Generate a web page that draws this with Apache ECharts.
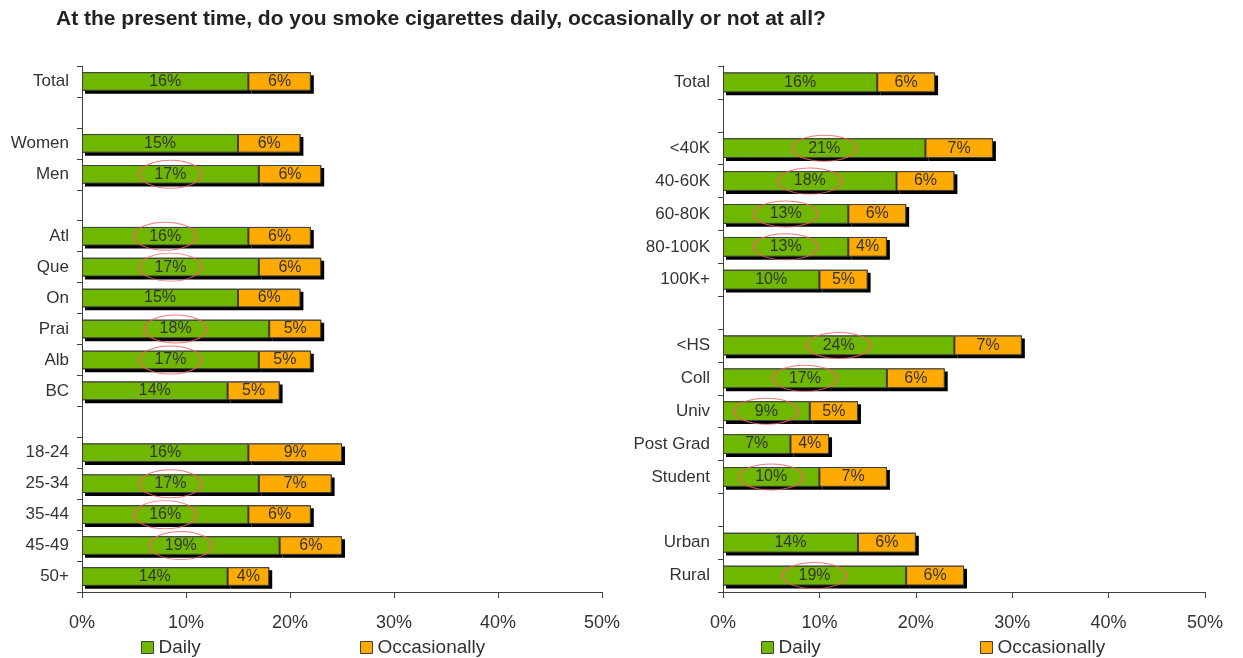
<!DOCTYPE html>
<html>
<head>
<meta charset="utf-8">
<script src="https://cdn.jsdelivr.net/npm/echarts@6/dist/echarts.min.js"></script>
<style>
html,body{margin:0;padding:0;background:#fff;}
#chart{width:1243px;height:658px;}
</style>
</head>
<body>
<div id="chart"></div>
<script>
// ---- data ----
const titleText = 'At the present time, do you smoke cigarettes daily, occasionally or not at all?';
const seriesNames = ['Daily', 'Occasionally'];
const xTicks = [0, 10, 20, 30, 40, 50];

const leftCategories = ['Total', '', 'Women', 'Men', '', 'Atl', 'Que', 'On', 'Prai', 'Alb', 'BC', '', '18-24', '25-34', '35-44', '45-49', '50+'];
const leftDaily      = [16, null, 15, 17, null, 16, 17, 15, 18, 17, 14, null, 16, 17, 16, 19, 14];
const leftOccasional = [6,  null, 6,  6,  null, 6,  6,  6,  5,  5,  5,  null, 9,  7,  6,  6,  4];
const leftCircled    = ['Men', 'Atl', 'Que', 'Prai', 'Alb', '25-34', '35-44', '45-49'];

const rightCategories = ['Total', '', '<40K', '40-60K', '60-80K', '80-100K', '100K+', '', '<HS', 'Coll', 'Univ', 'Post Grad', 'Student', '', 'Urban', 'Rural'];
const rightDaily      = [16, null, 21, 18, 13, 13, 10, null, 24, 17, 9, 7, 10, null, 14, 19];
const rightOccasional = [6,  null, 7,  6,  6,  4,  5,  null, 7,  6,  5, 4, 7,  null, 6,  6];
const rightCircled    = ['<40K', '40-60K', '60-80K', '80-100K', '<HS', 'Coll', 'Univ', 'Student', 'Rural'];

// ---- style ----
const FONT = '"Liberation Sans", Arial, Helvetica, sans-serif';
const GREEN = '#70B800';
const ORANGE = '#FFAA00';
const AXIS = '#404040';
const TEXT = '#333333';
const ELLIPSE = '#EC6262';
const ellipsePath = 'path://M0,50 A50,50 0 1,1 100,50 A50,50 0 1,1 0,50 Z';

function barSeries(name, color, data, idx) {
  return {
    type: 'bar', name: name, stack: 'main' + idx,
    xAxisIndex: idx, yAxisIndex: idx,
    barCategoryGap: '40%', barGap: '-100%',
    data: data,
    itemStyle: { color: color, borderColor: AXIS, borderWidth: 1 },
    label: {
      show: true, position: 'inside', formatter: '{c}%',
      color: TEXT, fontSize: 16, fontFamily: FONT
    },
    z: 3
  };
}
// shadow layer: same stacked values drawn in black, offset by a canvas shadow
function shadowSeries(data, idx, part) {
  return {
    type: 'bar', name: 'shadow-' + idx + '-' + part, stack: 'shadow' + idx,
    xAxisIndex: idx, yAxisIndex: idx,
    barCategoryGap: '40%', barGap: '-100%',
    data: data, silent: true,
    itemStyle: { color: '#000', shadowColor: '#000', shadowOffsetX: 3, shadowOffsetY: 3, shadowBlur: 0 },
    label: { show: false },
    z: 2
  };
}

function circleSeries(cats, daily, circled, idx, size) {
  const pts = cats.map((c, i) => circled.indexOf(c) >= 0 ? [daily[i] / 2, c] : null).filter(p => p);
  return {
    type: 'scatter', name: 'circles' + idx,
    xAxisIndex: idx, yAxisIndex: idx,
    data: pts, symbol: ellipsePath, symbolSize: size,
    itemStyle: { color: 'transparent', borderColor: ELLIPSE, borderWidth: 1.4 },
    silent: true, z: 5
  };
}

function xAxis(idx) {
  return {
    type: 'value', gridIndex: idx, min: xTicks[0], max: xTicks[xTicks.length - 1],
    interval: xTicks[1] - xTicks[0],
    axisLine: { show: true, lineStyle: { color: AXIS, width: 1 } },
    axisTick: { show: true, length: 6, lineStyle: { color: AXIS } },
    splitLine: { show: false },
    axisLabel: { formatter: '{value}%', fontSize: 18, color: TEXT, fontFamily: FONT, margin: 22 }
  };
}
function yAxis(idx, cats) {
  return {
    type: 'category', gridIndex: idx, data: cats, inverse: true,
    axisLine: { show: true, lineStyle: { color: AXIS, width: 1 } },
    axisTick: { show: true, length: 5, lineStyle: { color: AXIS } },
    axisLabel: { fontSize: 17, color: TEXT, fontFamily: FONT, margin: 13 }
  };
}
function legend(name, left) {
  return {
    data: [name], left: left, top: 633, icon: 'rect',
    itemWidth: 12, itemHeight: 12, itemGap: 0,
    itemStyle: { borderColor: AXIS, borderWidth: 1 },
    textStyle: { fontSize: 19, color: TEXT, fontFamily: FONT },
    selectedMode: false
  };
}

const chart = echarts.init(document.getElementById('chart'), null, { renderer: 'canvas' });
chart.setOption({
  animation: false,
  backgroundColor: '#fff',
  title: {
    text: titleText, left: 51, top: 4,
    textStyle: { fontSize: 21, fontWeight: 'bold', color: '#222', fontFamily: FONT }
  },
  legend: [
    legend(seriesNames[0], 136), legend(seriesNames[1], 355),
    legend(seriesNames[0], 756), legend(seriesNames[1], 975)
  ],
  grid: [
    { left: 82, top: 66, width: 520, height: 526 },
    { left: 723, top: 66, width: 482, height: 526 }
  ],
  xAxis: [xAxis(0), xAxis(1)],
  yAxis: [yAxis(0, leftCategories), yAxis(1, rightCategories)],
  series: [
    shadowSeries(leftDaily, 0, 'd'),
    shadowSeries(leftOccasional, 0, 'o'),
    barSeries(seriesNames[0], GREEN, leftDaily, 0),
    barSeries(seriesNames[1], ORANGE, leftOccasional, 0),
    shadowSeries(rightDaily, 1, 'd'),
    shadowSeries(rightOccasional, 1, 'o'),
    barSeries(seriesNames[0], GREEN, rightDaily, 1),
    barSeries(seriesNames[1], ORANGE, rightOccasional, 1),
    circleSeries(leftCategories, leftDaily, leftCircled, 0, [62, 28]),
    circleSeries(rightCategories, rightDaily, rightCircled, 1, [64, 26])
  ]
});
</script>
</body>
</html>
